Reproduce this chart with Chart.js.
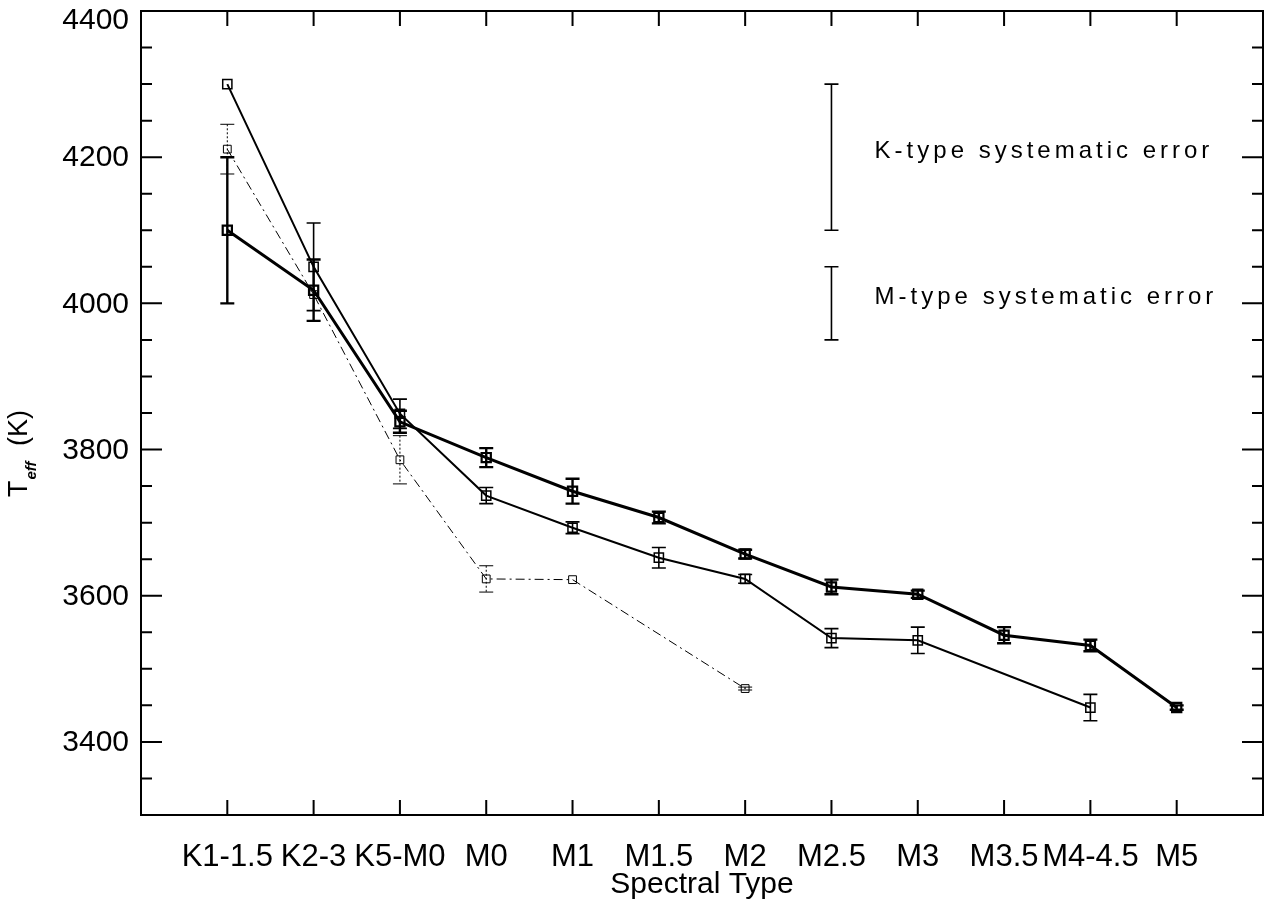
<!DOCTYPE html>
<html>
<head>
<meta charset="utf-8">
<script src="https://cdn.jsdelivr.net/npm/chart.js@4.4.1/dist/chart.umd.min.js"></script>
<style>
  html, body { margin: 0; padding: 0; background: #fff; }
  #wrap { width: 1276px; height: 903px; }
</style>
</head>
<body>
<div id="wrap"><canvas id="teffChart" width="1276" height="903"></canvas></div>
<script>
// 분광형 (x축 범주)
const spectralTypes = ['K1-1.5', 'K2-3', 'K5-M0', 'M0', 'M1', 'M1.5', 'M2', 'M2.5', 'M3', 'M3.5', 'M4-4.5', 'M5'];

// 굵은 실선 계열
const teffThick = [4100, 4018, 3838, 3789, 3743, 3707, 3657, 3612, 3602, 3546, 3532, 3447];
const errThick  = [100, 42, 15, 13, 17, 8, 6, 10, 5, 11, 8, 3];

// 중간 실선 계열
const teffMid = [4300, 4050, 3849, 3737, 3693, 3652, 3623, 3542, 3539, null, 3447, null];
const errMid  = [0, 60, 20, 11, 8, 14, 6, 13, 18, null, 18, null];

// 가는 점쇄선 계열
const teffThin = [4211, 4012, 3786, 3623, 3622, null, 3473, null, null, null, null, null];
const errThin  = [34, 0, 33, 18, 0, null, 2, null, null, null, null, null];

// 계통 오차 (중심값, 반폭)
const sysLabels = ['K-type systematic error', 'M-type systematic error'];
const sysCenter = [4200, 4000];
const sysHalf   = [100, 50];

// y축 눈금 라벨
const yTickLabels = [3400, 3600, 3800, 4000, 4200, 4400];

const FONT = '"Liberation Sans", Arial, sans-serif';

// 점 배열 만들기 (null 은 건너뜀)
function toPoints(vals, errs) {
  return vals
    .map((v, i) => (v == null ? null : { x: i, y: v, err: errs[i] || 0 }))
    .filter(Boolean);
}

// 오차 막대
const errorBarPlugin = {
  id: 'errorBars',
  afterDatasetsDraw(chart) {
    const { ctx, scales: { x, y } } = chart;
    chart.data.datasets.forEach(ds => {
      ctx.save();
      ctx.strokeStyle = '#000';
      ctx.lineWidth = ds.errWidth;
      ds.data.forEach(p => {
        if (!p.err) return;
        const px = x.getPixelForValue(p.x);
        const yt = y.getPixelForValue(p.y + p.err);
        const yb = y.getPixelForValue(p.y - p.err);
        ctx.setLineDash(ds.errDash || []);
        ctx.beginPath();
        ctx.moveTo(px, yt); ctx.lineTo(px, yb);
        ctx.stroke();
        ctx.setLineDash([]);
        ctx.beginPath();
        ctx.moveTo(px - 7, yt); ctx.lineTo(px + 7, yt);
        ctx.moveTo(px - 7, yb); ctx.lineTo(px + 7, yb);
        ctx.stroke();
      });
      ctx.restore();
    });

    // 계통 오차 막대 + 설명
    ctx.save();
    ctx.strokeStyle = '#000';
    ctx.fillStyle = '#000';
    ctx.lineWidth = 1.6;
    const bx = x.getPixelForValue(7);
    const tx = x.getPixelForValue(7.5);
    ctx.font = '24px ' + FONT;
    if ('letterSpacing' in ctx) ctx.letterSpacing = '4px';
    ctx.textBaseline = 'middle';
    sysCenter.forEach((c, i) => {
      const yt = y.getPixelForValue(c + sysHalf[i]);
      const yb = y.getPixelForValue(c - sysHalf[i]);
      ctx.beginPath();
      ctx.moveTo(bx, yt); ctx.lineTo(bx, yb);
      ctx.moveTo(bx - 7, yt); ctx.lineTo(bx + 7, yt);
      ctx.moveTo(bx - 7, yb); ctx.lineTo(bx + 7, yb);
      ctx.stroke();
      ctx.fillText(sysLabels[i], tx, y.getPixelForValue(c + 8));
    });
    ctx.restore();
  }
};

// 테두리, 안쪽 눈금, y축 라벨과 제목
const framePlugin = {
  id: 'frame',
  afterDraw(chart) {
    const { ctx, chartArea: a, scales: { x, y } } = chart;
    ctx.save();
    ctx.strokeStyle = '#000';
    ctx.lineWidth = 2;
    ctx.strokeRect(a.left, a.top, a.right - a.left, a.bottom - a.top);
    ctx.beginPath();
    for (let t = 3300; t <= 4400; t += 50) {
      const py = y.getPixelForValue(t);
      const len = t % 200 === 0 ? 21 : 11;
      ctx.moveTo(a.left, py); ctx.lineTo(a.left + len, py);
      ctx.moveTo(a.right, py); ctx.lineTo(a.right - len, py);
    }
    spectralTypes.forEach((s, i) => {
      const px = x.getPixelForValue(i);
      ctx.moveTo(px, a.bottom); ctx.lineTo(px, a.bottom - 15);
      ctx.moveTo(px, a.top); ctx.lineTo(px, a.top + 15);
    });
    ctx.stroke();

    // y축 눈금 라벨 (맨 위 라벨은 잘리지 않게 아래로)
    ctx.fillStyle = '#000';
    ctx.font = '30px ' + FONT;
    ctx.textAlign = 'right';
    ctx.textBaseline = 'middle';
    yTickLabels.forEach(v => {
      const py = Math.max(y.getPixelForValue(v) + 1, 21);
      ctx.fillText(String(v), a.left - 12, py);
    });

    // y축 제목: T_eff (K)
    ctx.textAlign = 'left';
    ctx.translate(27, 497);
    ctx.rotate(-Math.PI / 2);
    ctx.textBaseline = 'alphabetic';
    ctx.font = '27px ' + FONT;
    ctx.fillText('T', 0, 0);
    let w = ctx.measureText('T').width;
    ctx.font = 'italic bold 15px ' + FONT;
    ctx.fillText('eff', w + 1, 9);
    w += ctx.measureText('eff').width + 1;
    ctx.font = '27px ' + FONT;
    ctx.fillText(' (K)', w + 8, 0);
    ctx.restore();
  }
};

const commonDs = {
  showLine: true,
  pointStyle: 'rect',
  pointBackgroundColor: 'rgba(0,0,0,0)',
  borderColor: '#000',
  pointBorderColor: '#000',
  tension: 0
};

new Chart(document.getElementById('teffChart'), {
  type: 'scatter',
  data: {
    datasets: [
      Object.assign({}, commonDs, {
        label: 'thick',
        data: toPoints(teffThick, errThick),
        borderWidth: 3,
        pointRadius: 6.5,
        pointBorderWidth: 2.2,
        errWidth: 2.4
      }),
      Object.assign({}, commonDs, {
        label: 'mid',
        data: toPoints(teffMid, errMid),
        borderWidth: 2,
        pointRadius: 6.5,
        pointBorderWidth: 1.5,
        errWidth: 1.6
      }),
      Object.assign({}, commonDs, {
        label: 'thin',
        data: toPoints(teffThin, errThin),
        borderWidth: 1,
        borderDash: [9, 4, 2, 4],
        pointRadius: 5.5,
        pointBorderWidth: 1,
        errWidth: 1,
        errDash: [2, 2]
      })
    ]
  },
  options: {
    responsive: false,
    animation: false,
    layout: { padding: { top: 11, right: 13, left: 0, bottom: 0 } },
    plugins: {
      legend: { display: false },
      tooltip: { enabled: false }
    },
    scales: {
      x: {
        type: 'linear',
        min: -1,
        max: 12,
        grid: { display: false, drawTicks: false, tickLength: 0 },
        border: { display: false },
        afterFit: s => { s.height = 88; s.paddingLeft = 0; s.paddingRight = 0; },
        ticks: {
          stepSize: 1,
          autoSkip: false,
          maxRotation: 0,
          padding: 24,
          color: '#000',
          font: { family: FONT, size: 31 },
          callback: v => spectralTypes[v] || ''
        },
        title: {
          display: true,
          text: 'Spectral Type',
          color: '#000',
          font: { family: FONT, size: 30 },
          padding: { top: 0, bottom: 0 }
        }
      },
      y: {
        min: 3300,
        max: 4400,
        grid: { display: false, drawTicks: false, tickLength: 0 },
        border: { display: false },
        afterFit: s => { s.width = 141; s.paddingTop = 0; s.paddingBottom = 0; },
        ticks: {
          stepSize: 100,
          display: false
        }
      }
    }
  },
  plugins: [errorBarPlugin, framePlugin]
});
</script>
</body>
</html>
